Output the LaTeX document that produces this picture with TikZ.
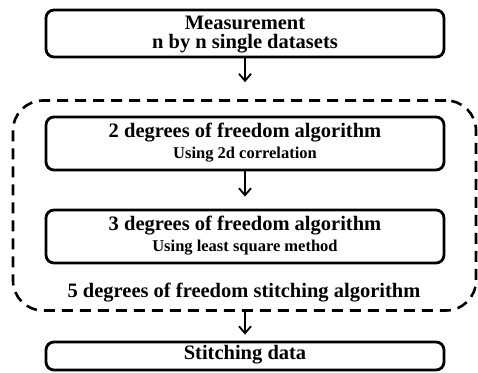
\documentclass[tikz,border=0pt]{standalone}
\usepackage{fontspec}
\setmainfont{Liberation Serif}
\usetikzlibrary{arrows.meta}

\tikzset{
  stepbox/.style={draw, line width=2.8pt, rounded corners=8pt,
    minimum width=398pt, inner sep=0pt, align=center},
  maintext/.style={font=\fontsize{20.5pt}{22pt}\selectfont\bfseries},
  subtext/.style={font=\fontsize{16.5pt}{20pt}\selectfont\bfseries},
  groupbox/.style={draw, line width=2.6pt, rounded corners=30pt,
    dash pattern=on 11pt off 7pt, minimum width=463pt, minimum height=210pt},
  flow/.style={line width=1.8pt, -{Straight Barb[length=7pt,width=12pt,line width=1.8pt]}},
}

\begin{document}
\begin{tikzpicture}[x=1pt,y=1pt]
  \useasboundingbox (0,0) rectangle (478,-372);

  % outer dashed group of the two algorithm stages
  \node[groupbox] (frame) at (244.5,-205.5) {};

  % process boxes
  \node[stepbox, minimum height=47pt] (meas) at (245,-33.5) {};
  \node[maintext] at (245,-23) {Measurement};
  \node[maintext] at (245,-44) {n by n single datasets};

  \node[stepbox, minimum height=53pt] (twodof) at (245,-143.5) {};
  \node[maintext] at (245,-133) {2 degrees of freedom algorithm};
  \node[subtext] at (245,-155) {Using 2d correlation};

  \node[stepbox, minimum height=53pt] (threedof) at (245,-236.5) {};
  \node[maintext] at (245,-226) {3 degrees of freedom algorithm};
  \node[subtext] at (245,-248) {Using least square method};

  \node[maintext] (grouplabel) at (244,-293) {5 degrees of freedom stitching algorithm};

  \node[stepbox, minimum height=28pt] (stitch) at (245,-356) {};
  \node[maintext] at (245,-355) {Stitching data};

  % connectors
  \draw[flow, shorten >=17pt] (meas.south) -- (meas.south |- frame.north);
  \draw[flow, shorten >=12pt] (twodof.south) -- (threedof.north);
  \draw[flow, shorten >=6pt] (stitch.north |- frame.south) -- (stitch.north);
\end{tikzpicture}
\end{document}
